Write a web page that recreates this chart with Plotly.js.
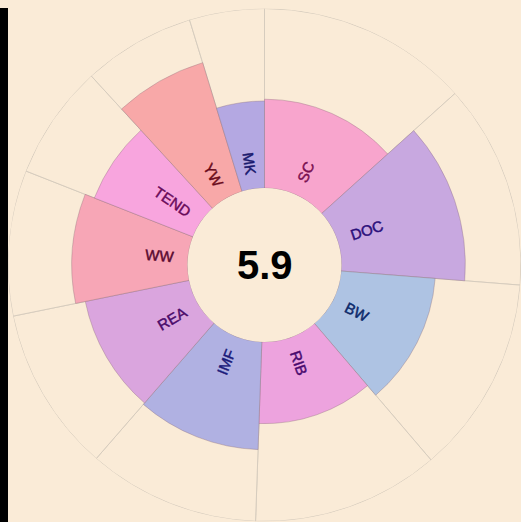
<!DOCTYPE html>
<html>
<head>
<meta charset="utf-8">
<script src="https://cdn.plot.ly/plotly-3.0.1.min.js"></script>
<style>html,body{margin:0;padding:0;background:#FAEBD7;}</style>
</head>
<body>
<div id="chart" style="width:521px;height:522px;"></div>
<script>
// ---- data ----
const categories = ['SC', 'DOC', 'BW', 'RIB', 'IMF', 'REA', 'WW', 'TEND', 'YW', 'MK'];
const widths = [48, 46.5, 45, 42.5, 39, 37.5, 33, 26, 25.5, 17];
const values = [4.95, 6.9, 5.25, 4.55, 6.0, 5.9, 6.45, 5.9, 7.5, 4.85];
const barColors = ['#F8A5CD', '#C8A8E0', '#AEC3E3', '#EDA3DE', '#B0B1E2', '#DAA5DE', '#F7A6B6', '#F8A5DE', '#F8A8A8', '#B4A8E2'];
const labelColors = ['#7A1050', '#2A0E7A', '#0D2A6B', '#4A0A6E', '#1A1A7A', '#4A0A6A', '#5A0A30', '#6A0A5A', '#6A0A1A', '#1A1A6E'];
const maxValue = 10;
const labelRadius = 0.8;
const centerLabel = '5.9';

// ---- derived ----
const thetas = [];
let acc = 0;
widths.forEach(w => { thetas.push(acc + w / 2); acc += w; });
const bg = '#FAEBD7';

const traces = [
  {
    type: 'barpolar',
    r: categories.map(() => maxValue),
    theta: thetas,
    width: widths,
    marker: {color: bg, line: {color: '#D6CCBE', width: 1}},
    hoverinfo: 'skip'
  },
  {
    type: 'barpolar',
    r: values,
    theta: thetas,
    width: widths,
    marker: {color: barColors, line: {color: 'rgba(140,110,120,0.45)', width: 0.8}},
    hoverinfo: 'skip'
  },
  {
    type: 'scatterpolar',
    mode: 'text',
    r: categories.map(() => labelRadius),
    theta: thetas,
    text: categories,
    textposition: thetas.map(t => t < 180 ? 'middle right' : 'middle left'),
    textfont: {family: 'Liberation Sans, Arial, sans-serif', size: 15, color: labelColors},
    hoverinfo: 'skip'
  }
];

const layout = {
  width: 521,
  height: 522,
  margin: {l: 8, r: 0, t: 8, b: 0, pad: 0},
  paper_bgcolor: bg,
  plot_bgcolor: bg,
  showlegend: false,
  polar: {
    bgcolor: bg,
    hole: 0.3,
    barmode: 'overlay',
    angularaxis: {rotation: 90, direction: 'clockwise', visible: false},
    radialaxis: {visible: false, range: [0, maxValue]}
  },
  shapes: [{
    type: 'rect', xref: 'paper', yref: 'paper',
    x0: -8 / 513, x1: 0, y0: 0, y1: 1,
    fillcolor: '#000000', line: {width: 0}
  }],
  annotations: [{
    xref: 'paper', yref: 'paper', x: 0.5, y: 0.5,
    text: '<b>' + centerLabel + '</b>', showarrow: false,
    font: {family: 'Liberation Sans, Arial, sans-serif', size: 40, color: '#000000'}
  }]
};

Plotly.newPlot('chart', traces, layout, {staticPlot: true, displayModeBar: false}).then(gd => {
  const pts = gd.querySelectorAll('.scatterlayer g.textpoint');
  pts.forEach((g, i) => {
    const t = g.querySelector('text');
    if (!t) return;
    g.setAttribute('transform', '');
    const x = parseFloat(t.getAttribute('x'));
    const y = parseFloat(t.getAttribute('y'));
    t.setAttribute('dy', '0.35em');
    t.querySelectorAll('tspan').forEach(s => s.setAttribute('dy', '0.35em'));
    t.style.stroke = labelColors[i];
    t.style.strokeWidth = '0.45px';
    const th = thetas[i];
    const ang = th < 180 ? th - 90 : th - 270;
    t.setAttribute('transform', 'rotate(' + ang + ',' + x + ',' + y + ')');
  });
});
</script>
</body>
</html>
